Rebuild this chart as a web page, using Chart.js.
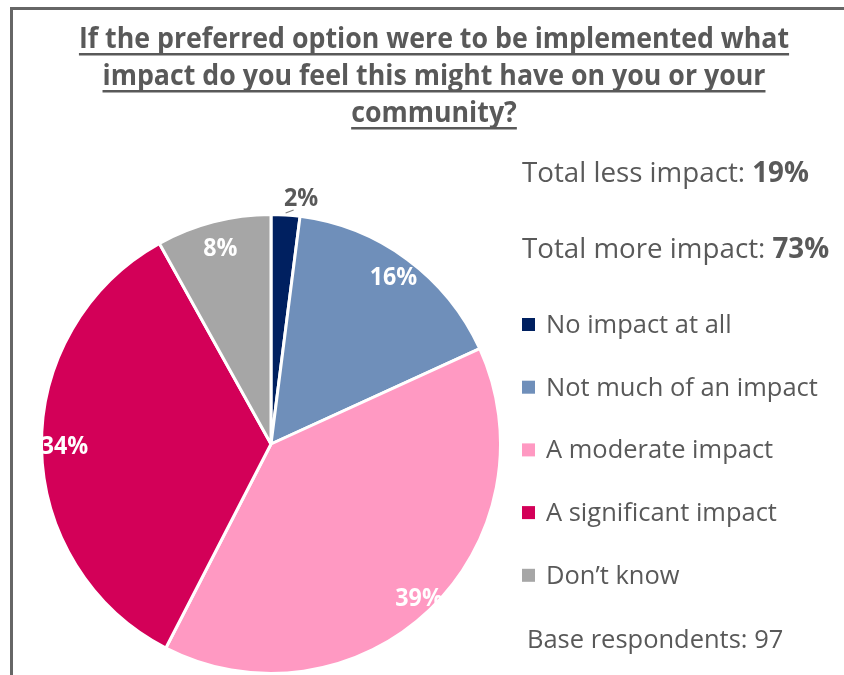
<!DOCTYPE html>
<html>
<head>
<meta charset="utf-8">
<script src="https://cdn.jsdelivr.net/npm/chart.js@4.4.1/dist/chart.umd.min.js"></script>
<style>
  html, body { margin: 0; padding: 0; background: #fff; }
  #wrap { width: 844px; height: 675px; }
</style>
</head>
<body>
<div id="wrap"><canvas id="impactPie" width="844" height="675"></canvas></div>
<script>
// survey answers, % of respondents
const categories = ['No impact at all', 'Not much of an impact', 'A moderate impact', 'A significant impact', 'Don\u2019t know'];
const shares = [2, 16, 39, 34, 8];
const sliceColours = ['#002060', '#6F8FBA', '#FF99C2', '#D30058', '#A6A6A6'];

const titleLines = [
  'If the preferred option were to be implemented what',
  'impact do you feel this might have on you or your',
  'community?'
];
const totalLabels = ['Total less impact: ', 'Total more impact: '];
const totalValues = [19, 73];
const baseRespondents = 97;

// where each percentage sits along its slice (fraction of the radius)
const labelRadius = [1.03, 0.9, 0.935, 0.9, 0.88];

const TEXT = '#595959';
const FONT = '"Open Sans", sans-serif';

// draw text compressed horizontally by sx, returns drawn width
function squeeze(ctx, text, x, y, sx) {
  ctx.save();
  ctx.translate(x, y);
  ctx.scale(sx, 1);
  ctx.fillText(text, 0, 0);
  ctx.restore();
  return ctx.measureText(text).width * sx;
}

const decorations = {
  id: 'decorations',
  beforeDraw(chart) {
    const ctx = chart.ctx;
    ctx.save();
    ctx.fillStyle = '#666';
    ctx.fillRect(10, 7, 834, 3);
    ctx.fillRect(10, 7, 3, 668);
    ctx.restore();
  },
  afterDatasetsDraw(chart) {
    const ctx = chart.ctx;
    const arcs = chart.getDatasetMeta(0).data;
    ctx.save();
    ctx.textBaseline = 'middle';
    arcs.forEach((arc, i) => {
      const { x, y, startAngle, endAngle, outerRadius } =
        arc.getProps(['x', 'y', 'startAngle', 'endAngle', 'outerRadius'], true);
      const mid = (startAngle + endAngle) / 2;
      const r = outerRadius * labelRadius[i];
      const lx = x + Math.cos(mid) * r;
      const ly = y + Math.sin(mid) * r;
      const text = shares[i] + '%';
      ctx.font = 'bold 25px ' + FONT;
      if (labelRadius[i] > 1) {
        // small slice: label outside with a short leader
        const ex = x + Math.cos(mid) * (outerRadius + 1);
        const ey = y + Math.sin(mid) * (outerRadius + 1);
        ctx.strokeStyle = '#7f7f7f';
        ctx.lineWidth = 1.2;
        ctx.beginPath();
        ctx.moveTo(ex, ey - 1);
        ctx.lineTo(ex + 8, ey - 4);
        ctx.stroke();
        ctx.fillStyle = TEXT;
        ctx.textAlign = 'left';
        squeeze(ctx, text, lx - 2, ly - 9, 0.93);
      } else {
        ctx.fillStyle = '#fff';
        ctx.textAlign = 'center';
        squeeze(ctx, text, lx, ly, 0.93);
      }
    });
    ctx.restore();
  },
  afterDraw(chart) {
    const ctx = chart.ctx;
    ctx.save();
    ctx.fillStyle = TEXT;
    ctx.textBaseline = 'alphabetic';

    // underlined title
    ctx.font = 'bold 28px ' + FONT;
    ctx.textAlign = 'center';
    titleLines.forEach((line, i) => {
      const base = 48 + i * 37;
      const w = squeeze(ctx, line, 434, base, 0.955);
      ctx.fillRect(434 - w / 2, base + 5, w, 2.5);
    });

    // totals
    ctx.textAlign = 'left';
    totalLabels.forEach((label, i) => {
      const base = 182 + i * 76;
      ctx.font = '28px ' + FONT;
      const w = squeeze(ctx, label, 522, base, 0.99);
      ctx.font = 'bold 28px ' + FONT;
      squeeze(ctx, totalValues[i] + '%', 522 + w, base, 0.99);
    });

    // legend
    ctx.font = '26px ' + FONT;
    categories.forEach((cat, i) => {
      const base = 333 + i * 62.7;
      ctx.fillStyle = sliceColours[i];
      ctx.fillRect(522, base - 15, 13, 13);
      ctx.fillStyle = TEXT;
      squeeze(ctx, cat, 546, base, 0.98);
    });

    ctx.font = '26px ' + FONT;
    squeeze(ctx, 'Base respondents: ' + baseRespondents, 527, 648, 0.98);
    ctx.restore();
  }
};

new Chart(document.getElementById('impactPie'), {
  type: 'pie',
  data: {
    labels: categories,
    datasets: [{
      data: shares,
      backgroundColor: sliceColours,
      borderColor: '#fff',
      borderWidth: 3
    }]
  },
  options: {
    responsive: false,
    devicePixelRatio: 1,
    animation: false,
    layout: { padding: { left: 38, top: 213, right: 340, bottom: -6 } },
    plugins: {
      legend: { display: false },
      tooltip: { enabled: false },
      title: { display: false }
    }
  },
  plugins: [decorations]
});
</script>
</body>
</html>
